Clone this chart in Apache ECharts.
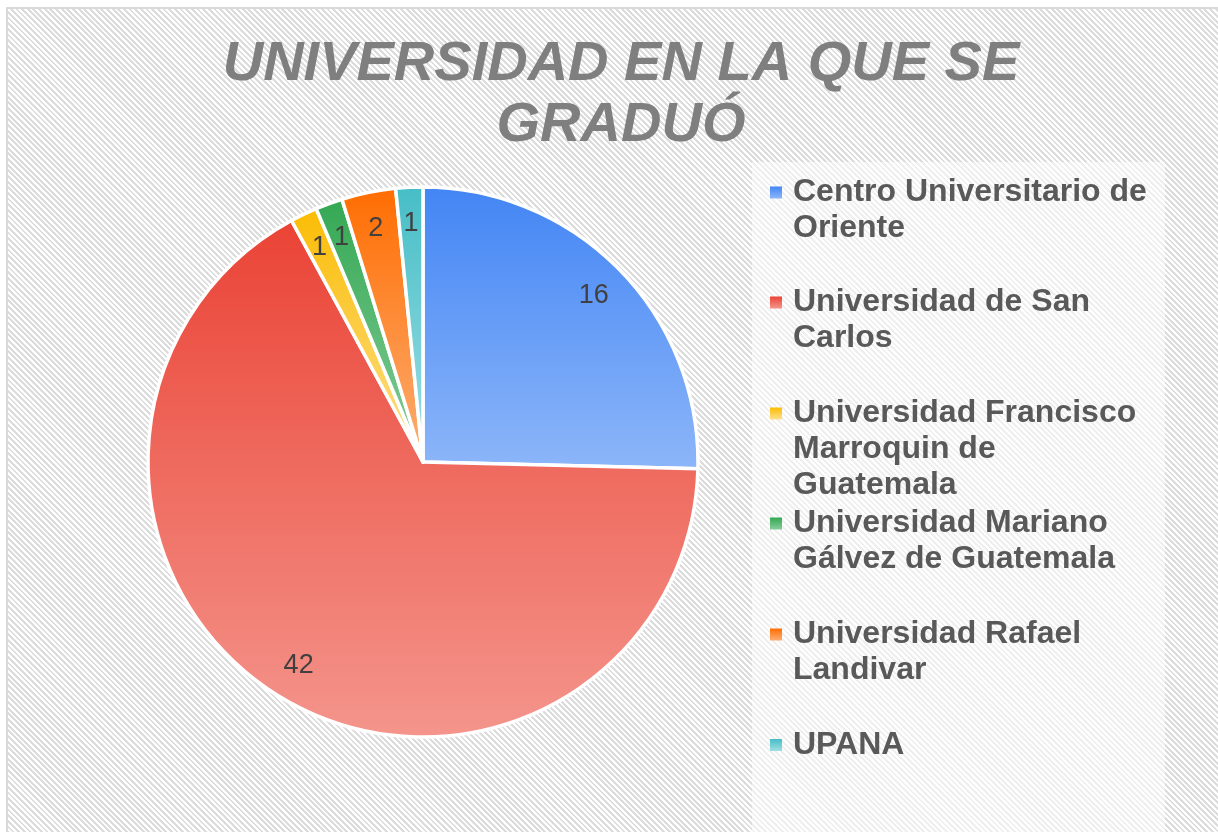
<!DOCTYPE html>
<html>
<head>
<meta charset="utf-8">
<script src="https://cdn.jsdelivr.net/npm/echarts@6/dist/echarts.min.js"></script>
<style>
  html, body { margin: 0; padding: 0; background: #ffffff; overflow: hidden; }
  #frame {
    position: absolute; left: 6px; top: 7px; width: 1240px; height: 850px;
    border: 2px solid #d9d9d9;
    background: repeating-linear-gradient(45deg, #ffffff 0px, #ffffff 2px, #dcdcdc 2px, #dcdcdc 4px);
  }
  #chart { position: absolute; left: 0; top: 0; width: 1218px; height: 832px; }
</style>
</head>
<body>
<div id="frame"></div>
<div id="chart"></div>
<script>
// ---- data ----
const titleText = 'UNIVERSIDAD EN LA QUE SE\nGRADUÓ';
const categories = [
  'Centro Universitario de Oriente',
  'Universidad de San Carlos',
  'Universidad Francisco Marroquin de Guatemala',
  'Universidad Mariano Gálvez de Guatemala',
  'Universidad Rafael Landivar',
  'UPANA'
];
const values = [16, 42, 1, 1, 2, 1];
const legendLines = [
  ['Centro Universitario de', 'Oriente'],
  ['Universidad de San', 'Carlos'],
  ['Universidad Francisco', 'Marroquin de', 'Guatemala'],
  ['Universidad Mariano', 'Gálvez de Guatemala'],
  ['Universidad Rafael', 'Landivar'],
  ['UPANA']
];
const colorsTop = ['#4285f4', '#ea4335', '#fbbc04', '#34a853', '#ff6d01', '#46bdc6'];
const colorsBottom = ['#8db6f9', '#f4958c', '#fde08c', '#86cd9a', '#fcae74', '#9fdfe3'];

// ---- layout ----
const CX = 423, CY = 462, R = 275;
const LEGEND_LEFT = 770;
const LINE_H = 36;
const iconCenters = [192.5, 302.5, 413.5, 523.5, 634.5, 745];

const chart = echarts.init(document.getElementById('chart'), null, { renderer: 'canvas' });

const pieData = categories.map((name, i) => ({
  name: name,
  value: values[i],
  itemStyle: {
    color: new echarts.graphic.LinearGradient(0, 0, 0, 1, [
      { offset: 0, color: colorsTop[i] },
      { offset: 1, color: colorsBottom[i] }
    ])
  }
}));

const labelData = categories.map((name, i) => ({ name: name, value: values[i] }));

const legends = categories.map((name, i) => {
  const lines = legendLines[i];
  const n = lines.length;
  const pads = [];
  for (let k = 0; k < n - 1; k++) pads.push(' ');
  const txt = pads.concat(lines).join('\n');
  return {
    data: [name],
    orient: 'vertical',
    left: LEGEND_LEFT,
    top: iconCenters[i] - LINE_H * (2 * n - 1) / 2,
    padding: 0,
    itemWidth: 12,
    itemHeight: 12,
    icon: 'rect',
    itemStyle: { borderWidth: 0, borderColor: 'transparent' },
    selectedMode: false,
    formatter: function () { return txt; },
    textStyle: {
      fontSize: 32,
      fontWeight: 'bold',
      color: '#595959',
      fontFamily: 'Liberation Sans, Arial, sans-serif',
      lineHeight: LINE_H,
      padding: [0, 0, 0, 6]
    }
  };
});

chart.setOption({
  backgroundColor: 'transparent',
  animation: false,
  title: {
    text: titleText,
    left: 616,
    top: 29,
    textAlign: 'center',
    textStyle: {
      fontSize: 56,
      fontWeight: 'bold',
      fontStyle: 'italic',
      color: '#7f7f7f',
      fontFamily: 'Liberation Sans, Arial, sans-serif',
      lineHeight: 61
    }
  },
  graphic: [{
    type: 'rect',
    silent: true,
    z: -10,
    shape: { x: 752, y: 162, width: 413, height: 700 },
    style: { fill: 'rgba(255,255,255,0.55)' }
  }],
  legend: legends,
  series: [
    {
      type: 'pie',
      center: [CX, CY],
      radius: [0, R],
      startAngle: 90,
      clockwise: true,
      avoidLabelOverlap: false,
      label: { show: false },
      labelLine: { show: false },
      itemStyle: { borderColor: '#ffffff', borderWidth: 3.5 },
      emphasis: { disabled: true },
      data: pieData
    },
    {
      type: 'pie',
      center: [CX, CY],
      radius: [196, R],
      startAngle: 90,
      clockwise: true,
      silent: true,
      avoidLabelOverlap: false,
      itemStyle: { color: 'rgba(0,0,0,0)', borderWidth: 0 },
      label: {
        show: true,
        position: 'inside',
        formatter: '{c}',
        fontSize: 27,
        color: '#404040',
        fontFamily: 'Liberation Sans, Arial, sans-serif'
      },
      labelLine: { show: false },
      emphasis: { disabled: true },
      data: labelData
    }
  ]
});
</script>
</body>
</html>
